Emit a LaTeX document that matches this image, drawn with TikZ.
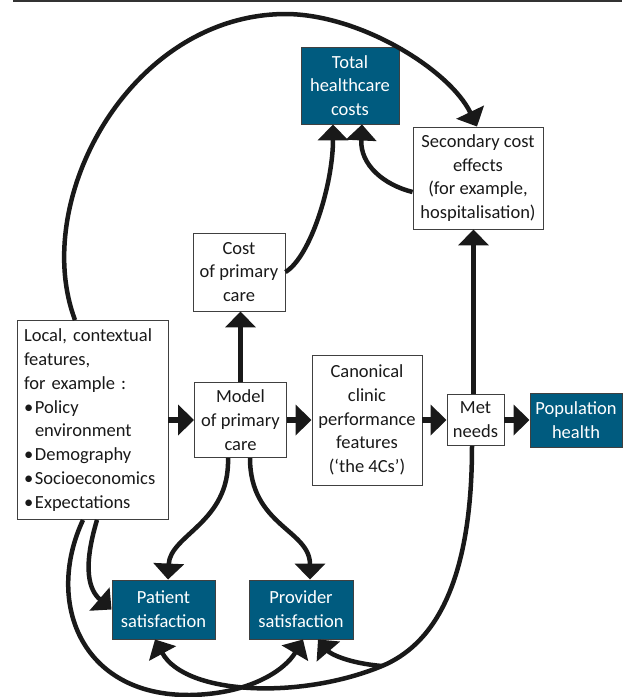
\documentclass[tikz,border=0pt]{standalone}
\usepackage{fontspec}
\setmainfont{Carlito}
\usetikzlibrary{arrows.meta}
\definecolor{petrol}{RGB}{0,91,127}
\newcommand{\bul}{\makebox[11pt][l]{\textbullet}}
\begin{document}
\begin{tikzpicture}[x=1pt,y=-1pt]
\tikzstyle{every node}=[rectangle,draw=black!75,line width=0.9pt,inner sep=0pt,align=center,text=black!90,font=\fontsize{18.5}{23.8}\selectfont]
\tikzstyle{dark}=[fill=petrol,text=white]
\tikzstyle{flow}=[line width=4.5pt,black!90,-{Triangle[width=30pt,length=16pt]}]
\tikzstyle{thickflow}=[flow,line width=5.5pt]
\useasboundingbox (0,0) rectangle (622,697);
\draw[black!80,line width=1.5pt] (13,0.75) -- (622,0.75);
\node[dark,minimum width=98pt,minimum height=77pt] at (350,85.5) (tot) {Total\\healthcare\\costs};
\node[minimum width=130pt,minimum height=102pt] at (478,178) (sec) {Secondary cost\\effects\\(for example,\\hospitalisation)};
\node[minimum width=92pt,minimum height=78pt] at (239,272) (cost) {Cost\\of primary\\care};
\node[text width=137pt,align=left,inner sep=7pt,minimum height=199pt] at (92.5,420) (local)
  {Local, contextual\\features,\\for example :\\\bul Policy\\\hspace*{11pt}environment\\\bul Demography\\\bul Socioeconomics\\\bul Expectations};
\node[minimum width=92pt,minimum height=75pt] at (240.5,420) (model) {Model\\of primary\\care};
\node[minimum width=110pt,minimum height=130pt] at (367,420) (canon) {Canonical\\clinic\\performance\\features\\(‘the 4Cs’)};
\node[minimum width=57pt,minimum height=51pt] at (475.5,420) (met) {Met\\needs};
\node[dark,minimum width=92pt,minimum height=54pt] at (576,420) (pop) {Population\\health};
\node[dark,minimum width=103pt,minimum height=59pt] at (163.5,609.5) (pat) {Patient\\satisfaction};
\node[dark,minimum width=104pt,minimum height=59pt] at (301,609.5) (prov) {Provider\\satisfaction};
\coordinate (fork) at (382,666);
\draw[thickflow] (local) -- (model);
\draw[thickflow] (model) -- (canon);
\draw[thickflow] (canon) -- (met);
\draw[thickflow] (met) -- (pop);
\draw[thickflow] (model.north) -- (model.north |- cost.south);
\draw[thickflow] ([xshift=-2pt]met.north) -- ([xshift=-2pt]met.north |- sec.south);
\draw[flow] (cost.east) .. controls +(25,-15) and +(0,60) .. ([xshift=-17pt]tot.south);
\draw[flow] ([yshift=-14pt]sec.west) .. controls +(-28,-7) and +(-2,41) .. ([xshift=12pt]tot.south);
\draw[flow] ([xshift=-17.5pt]local.north) .. controls (30,200) and (130,15) .. (285,14)
  .. controls (360,14) and (450,70) .. ([xshift=-1pt]sec.north);
\draw[flow] ([xshift=-12.5pt]model.south) .. controls +(2,65) and +(2,-45) .. ([xshift=4.5pt]pat.north);
\draw[flow] ([xshift=9.5pt]model.south) .. controls +(0,68) and +(0,-50) .. ([xshift=9pt]prov.north);
\draw[flow] ([xshift=4.5pt]local.south) .. controls +(-15,50) and +(-22,-19) .. (pat.west);
\draw[flow] ([xshift=-9.5pt]local.south) .. controls +(-38,81) and (80,696) .. (190,695)
  .. controls (250,694) and (285,670) .. ([xshift=2pt]prov.south);
\draw[flow] ([xshift=-3.5pt]met.south) .. controls +(0,144) and (430,646) .. (fork)
  .. controls (300,700) and (185,695) .. ([xshift=-8.5pt]pat.south);
\draw[flow] (fork) .. controls +(-35,-3) and +(12,14) .. ([xshift=17pt]prov.south);
\end{tikzpicture}
\end{document}
